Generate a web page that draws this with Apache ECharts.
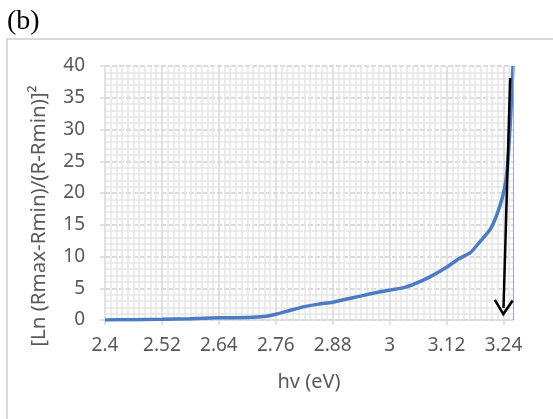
<!DOCTYPE html>
<html>
<head>
<meta charset="utf-8">
<script src="https://cdn.jsdelivr.net/npm/echarts@6/dist/echarts.min.js"></script>
<style>
html,body{margin:0;padding:0;background:#fff;}
#chart{width:553px;height:419px;}
</style>
</head>
<body>
<div id="chart"></div>
<script>
// photon energy (eV)
var hv = [2.40, 2.46, 2.52, 2.58, 2.64, 2.70, 2.74, 2.76, 2.79, 2.82, 2.85, 2.88, 2.90, 2.94, 2.97, 3.00, 3.03, 3.05, 3.085, 3.12, 3.145, 3.17, 3.19, 3.213, 3.227, 3.238, 3.245, 3.25, 3.255, 3.26];
// [Ln (Rmax-Rmin)/(R-Rmin)]^2
var yVal = [0.0, 0.05, 0.1, 0.2, 0.35, 0.4, 0.6, 0.9, 1.5, 2.1, 2.5, 2.8, 3.15, 3.8, 4.3, 4.7, 5.1, 5.6, 6.8, 8.3, 9.6, 10.6, 12.3, 14.4, 16.8, 19.4, 22.0, 25.7, 32.0, 40.0];
var xTicks = [2.4, 2.52, 2.64, 2.76, 2.88, 3, 3.12, 3.24];
var yTicks = [0, 5, 10, 15, 20, 25, 30, 35, 40];
var arrowStart = [3.254, 38.1];
var arrowEnd = [3.240, 1.9];
var xMin = 2.4, xMax = 3.26;

var chart = echarts.init(document.getElementById('chart'));
var labelColor = '#595959';
var font = 'Noto Sans';
chart.setOption({
  animation: false,
  graphic: [
    { type: 'rect', z: -10, shape: { x: 7, y: 39, width: 600, height: 420 },
      style: { fill: 'none', stroke: '#d9d9d9', lineWidth: 2 } },
    { type: 'text', left: 7, top: 8,
      style: { text: '(b)', font: '28px "Liberation Serif"', fill: '#000' } }
  ],
  grid: { left: 105, right: 40, top: 66, bottom: 99 },
  xAxis: {
    type: 'value', min: xMin, max: xMax, interval: 0.12,
    name: 'hv (eV)', nameLocation: 'middle', nameGap: 52,
    nameTextStyle: { color: labelColor, fontSize: 20, fontFamily: font },
    axisLine: { show: true, lineStyle: { color: '#d9d9d9', width: 1.5 } },
    axisTick: { show: true, length: 5, customValues: xTicks, lineStyle: { color: '#d9d9d9', width: 1.5 } },
    axisLabel: { customValues: xTicks, margin: 16, color: labelColor, fontSize: 19, fontFamily: font,
      formatter: function (v) { return String(+v.toFixed(2)); } },
    splitLine: { show: true, lineStyle: { color: '#d9d9d9', width: 1.5 } },
    minorTick: { show: false, splitNumber: 10 },
    minorSplitLine: { show: true, lineStyle: { color: '#e6e6e6', width: 1.5 } }
  },
  yAxis: {
    type: 'value', min: 0, max: 40, interval: 5,
    name: '[Ln (Rmax-Rmin)/(R-Rmin)]²', nameLocation: 'middle', nameGap: 55,
    nameTextStyle: { color: labelColor, fontSize: 20.5, fontFamily: font, padding: [0, 46, 0, 0] },
    axisLine: { show: false },
    axisTick: { show: true, length: 5, lineStyle: { color: '#d9d9d9', width: 1.5 } },
    axisLabel: { margin: 20, color: labelColor, fontSize: 19, fontFamily: font },
    splitLine: { show: true, lineStyle: { color: '#d0d0d0', width: 1.5, type: [5, 2] } },
    minorTick: { show: false, splitNumber: 5 },
    minorSplitLine: { show: true, lineStyle: { color: '#e6e6e6', width: 1.5 } }
  },
  series: [
    {
      type: 'line', data: hv.map(function (x, i) { return [x, yVal[i]]; }),
      showSymbol: false, smooth: 0.2, clip: true,
      lineStyle: { color: '#4a7bc4', width: 3.5 },
      markLine: {
        silent: true, symbol: 'none', label: { show: false },
        lineStyle: { color: '#8eaadb', width: 1, type: 'solid' },
        data: [{ xAxis: xMax }]
      }
    },
    {
      type: 'line', data: [],
      markLine: {
        silent: true, label: { show: false },
        symbol: ['none', 'path://M5,0 L10,8.8 L8.9,9.6 L5,2.6 L1.1,9.6 L0,8.8 Z'],
        symbolSize: [20, 17],
        lineStyle: { color: '#000', width: 2.5, type: 'solid' },
        data: [[{ coord: arrowStart }, { coord: arrowEnd }]]
      }
    }
  ]
});
</script>
</body>
</html>
